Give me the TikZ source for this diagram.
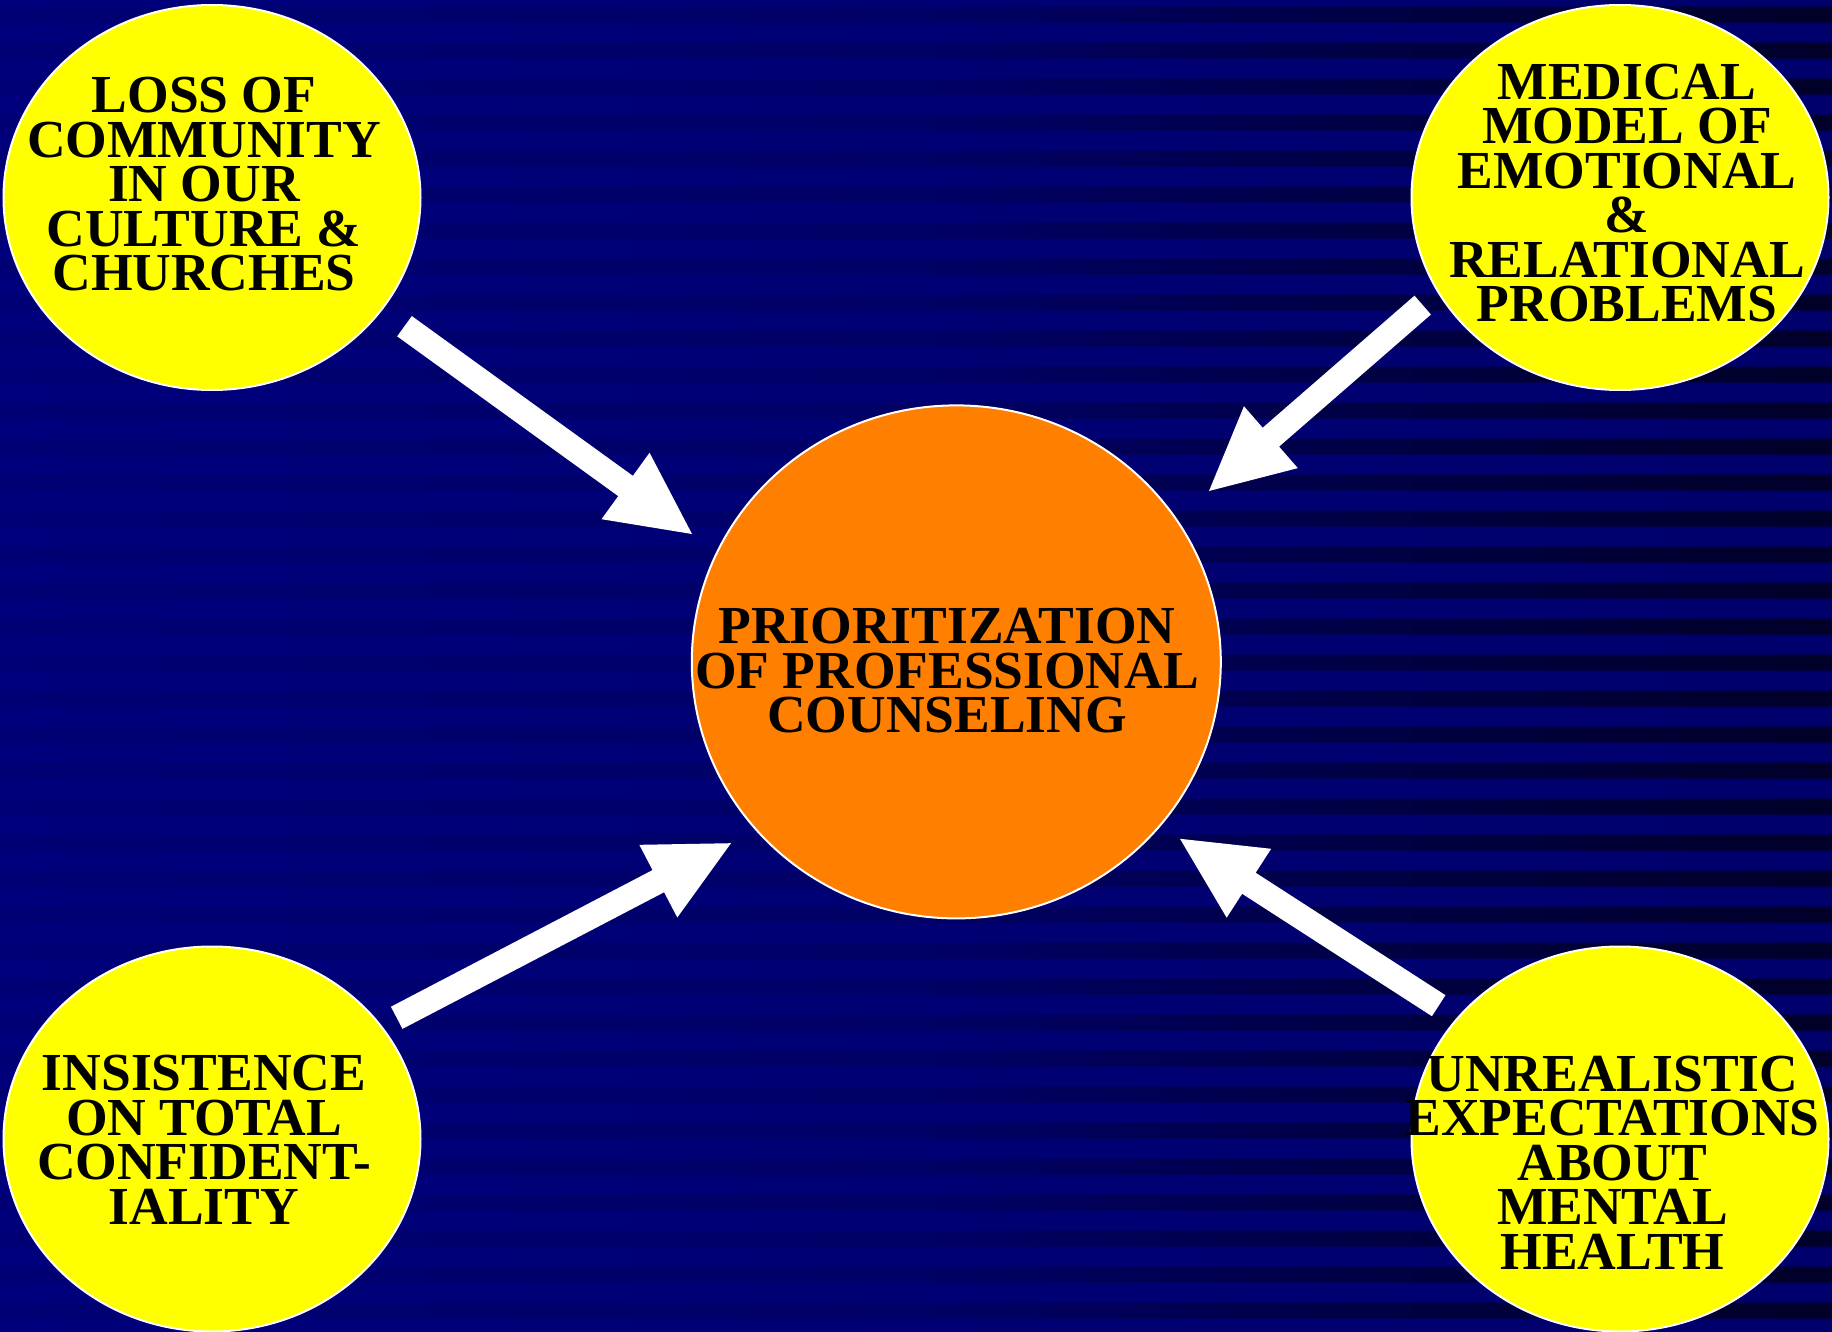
\documentclass[tikz,border=0pt]{standalone}
\usepackage{fontspec}
\setmainfont{Liberation Serif}
\usetikzlibrary{shapes.geometric,calc}
\definecolor{bgLightL}{RGB}{0,0,124}
\definecolor{bgLightR}{RGB}{0,0,108}
\definecolor{bubbleYellow}{RGB}{255,255,0}
\definecolor{hubOrange}{RGB}{255,128,0}
\pgfdeclarehorizontalshading{darkbands}{100bp}{rgb(0bp)=(0,0,0.455); rgb(25bp)=(0,0,0.455);
  rgb(50bp)=(0,0,0.40); rgb(62bp)=(0,0,0.27); rgb(75bp)=(0,0,0.157); rgb(100bp)=(0,0,0.157)}
\begin{document}
\begin{tikzpicture}[x=1pt,y=-1pt,
  bubble/.style={ellipse, draw=white, line width=2pt, inner sep=0pt, fill=bubbleYellow,
    minimum width=417pt, minimum height=385pt},
  hub/.style={ellipse, draw=white, line width=2pt, inner sep=0pt, fill=hubOrange,
    minimum width=529pt, minimum height=513pt},
  caption/.style={align=center, inner sep=0pt, text=black,
    font=\bfseries\fontsize{53.5}{44.5}\selectfont},
  arrowfill/.style={fill=white, draw=none}
]
\useasboundingbox (0,0) rectangle (1832,1332);
% striped background
\shade[left color=bgLightL, right color=bgLightR] (0,0) rectangle (1832,1332);
\shade[shading=darkbands]
  foreach \k in {0,...,36} { (0,{6.7+36*\k}) rectangle (1832,{22.7+36*\k}) };

% bubbles
\node[bubble] (loss) at (212,197.5) {};
\node[bubble] (medical) at (1620,197.5) {};
\node[bubble] (insist) at (212,1139) {};
\node[bubble] (unreal) at (1620,1139) {};
\node[hub] (hub) at (956.3,661.9) {};

% arrow end points
\coordinate (a1s) at (404.5,326.2);  \coordinate (a1e) at (692,534);
\coordinate (a2s) at (1422.7,305.1); \coordinate (a2e) at (1209,491);
\coordinate (a3s) at (396.7,1017.8); \coordinate (a3e) at (731,843.2);
\coordinate (a4s) at (1438.7,1005.7);\coordinate (a4e) at (1180,838.8);

\foreach \s/\e in {a1s/a1e, a2s/a2e, a3s/a3e, a4s/a4e} {
  \coordinate (hb) at ($(\e)!82pt!(\s)$);
  \path[arrowfill] ($(\s)!12.5pt!90:(\e)$) -- ($(hb)!12.5pt!90:(\e)$)
    -- ($(hb)!41pt!90:(\e)$) -- (\e) -- ($(hb)!41pt!-90:(\e)$)
    -- ($(hb)!12.5pt!-90:(\e)$) -- ($(\s)!12.5pt!-90:(\e)$) -- cycle;
}

% texts
\node[caption] (lossT) at (204,184.5) {LOSS OF\\COMMUNITY\\IN OUR\\CULTURE \&\\CHURCHES};
\node[caption] (medicalT) at (1627,193) {MEDICAL\\MODEL OF\\EMOTIONAL\\\&\\RELATIONAL\\PROBLEMS};
\node[caption] (hubT) at (947,671) {PRIORITIZATION\\OF PROFESSIONAL\\COUNSELING};
\node[caption] (insistT) at (204,1140) {INSISTENCE\\ON TOTAL\\CONFIDENT-\\IALITY};
\node[caption] (unrealT) at (1612.5,1162.5) {UNREALISTIC\\EXPECTATIONS\\ABOUT\\MENTAL\\HEALTH};
\end{tikzpicture}
\end{document}
